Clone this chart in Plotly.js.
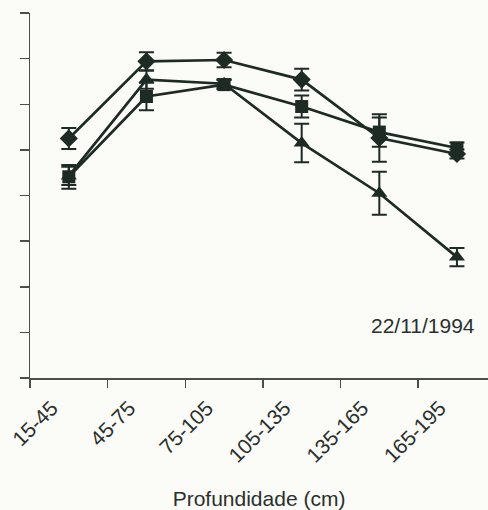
<!DOCTYPE html>
<html>
<head>
<meta charset="utf-8">
<script src="https://cdn.plot.ly/plotly-3.0.1.min.js"></script>
<style>html,body{margin:0;padding:0;background:#fbfbf8;overflow:hidden}#chart{width:488px;height:510px}</style>
</head>
<body>
<div id="chart"></div>
<script>
// Depth classes (x categories)
var depths = ["15-45", "45-75", "75-105", "105-135", "135-165", "165-195"];
// Series values (arbitrary units; y axis has no labels in the original)
var diamondVals = [5.25, 6.94, 6.97, 6.54, 5.26, 4.91];
var diamondErr  = [0.23, 0.20, 0.16, 0.24, 0.52, 0.10];
var squareVals  = [4.41, 6.17, 6.43, 5.95, 5.39, 5.04];
var squareErr   = [0.26, 0.30, 0.10, 0.24, 0.32, 0.12];
var triangleVals = [4.43, 6.54, 6.45, 5.15, 4.05, 2.65];
var triangleErr  = [0.20, 0.20, 0.10, 0.42, 0.47, 0.20];
var yTicks = [0, 1, 2, 3, 4, 5, 6, 7, 8];
var dateLabel = "22/11/1994";

var ink = "#1e2a24";
function series(name, vals, errs, symbol, size) {
  return {
    type: "scatter", mode: "lines+markers", name: name,
    x: depths, y: vals,
    line: {color: ink, width: 2.7},
    marker: {symbol: symbol, size: size, color: ink},
    error_y: {type: "data", array: errs, visible: true, color: ink, thickness: 2, width: 7.5},
    cliponaxis: false
  };
}
var data = [
  series("Triângulo", triangleVals, triangleErr, "triangle-up", 14),
  series("Quadrado", squareVals, squareErr, "square", 13),
  series("Losango", diamondVals, diamondErr, "diamond", 14)
];
var layout = {
  width: 488, height: 510,
  margin: {l: 30, r: 0, t: 13, b: 132},
  paper_bgcolor: "#fbfbf8", plot_bgcolor: "#fbfbf8",
  showlegend: false,
  font: {family: "Liberation Sans, Arial, sans-serif", color: "#2a302c"},
  xaxis: {
    type: "category", range: [-0.5, 5.4], tickson: "boundaries",
    ticks: "outside", ticklen: 8, tickwidth: 1.5, tickcolor: "#4a4f4b",
    showline: true, linecolor: "#4a4f4b", linewidth: 1.5,
    showgrid: false, zeroline: false,
    tickangle: -45, tickfont: {size: 21, color: "#2a302c"},
    ticklabelshift: -17, ticklabelstandoff: 8,
    automargin: false,
    title: {text: "Profundidade (cm)", font: {size: 21, color: "#2a302c"}, standoff: 28}
  },
  yaxis: {
    range: [0, 8], tickvals: yTicks, showticklabels: false,
    ticks: "outside", ticklen: 9, tickwidth: 1.5, tickcolor: "#4a4f4b",
    showline: true, linecolor: "#4a4f4b", linewidth: 1.5,
    showgrid: false, zeroline: false, automargin: false
  },
  annotations: [{
    text: dateLabel, xref: "paper", yref: "paper", x: 0.976, y: 0.145,
    xanchor: "right", yanchor: "middle", showarrow: false,
    font: {size: 21, color: "#2a302c"}
  }]
};
Plotly.newPlot("chart", data, layout, {displayModeBar: false, staticPlot: true});
</script>
</body>
</html>
